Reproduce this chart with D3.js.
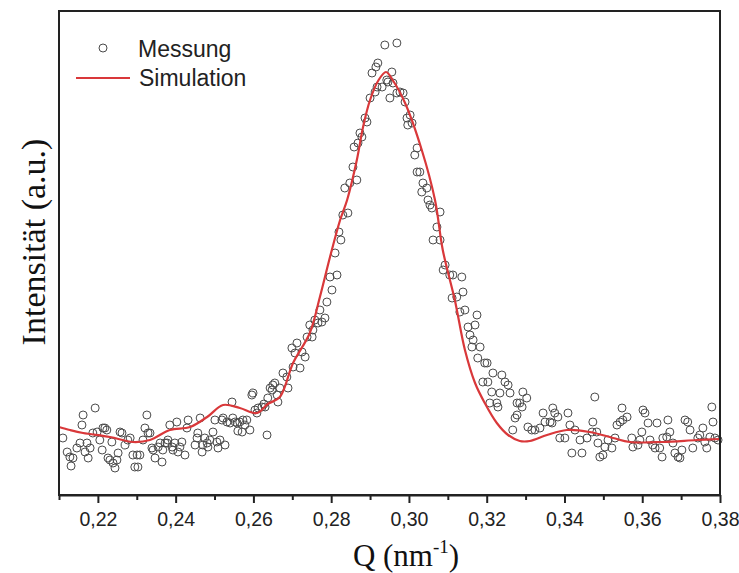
<!DOCTYPE html>
<html><head><meta charset="utf-8">
<script src="https://cdn.jsdelivr.net/npm/d3@7/dist/d3.min.js"></script>
<style>body{margin:0;background:#fff}svg{display:block}</style>
</head><body>
<script>
// Messung (measured) data: Q (nm^-1), intensity (a.u.)
const measQ = [0.2110,0.2121,0.2128,0.2131,0.2136,0.2146,0.2154,0.2159,0.2162,0.2167,0.2172,0.2175,0.2180,0.2187,0.2193,0.2198,0.2205,0.2211,0.2213,0.2218,0.2223,0.2226,0.2231,0.2236,0.2239,0.2244,0.2249,0.2252,0.2257,0.2262,0.2270,0.2277,0.2283,0.2290,0.2295,0.2301,0.2303,0.2308,0.2316,0.2321,0.2326,0.2329,0.2334,0.2339,0.2342,0.2347,0.2355,0.2360,0.2365,0.2367,0.2373,0.2378,0.2380,0.2385,0.2391,0.2393,0.2398,0.2403,0.2406,0.2411,0.2416,0.2424,0.2429,0.2432,0.2450,0.2455,0.2457,0.2463,0.2468,0.2470,0.2475,0.2481,0.2483,0.2488,0.2496,0.2501,0.2506,0.2509,0.2514,0.2519,0.2522,0.2527,0.2532,0.2540,0.2545,0.2547,0.2553,0.2558,0.2560,0.2565,0.2571,0.2573,0.2578,0.2583,0.2591,0.2596,0.2599,0.2604,0.2609,0.2612,0.2622,0.2627,0.2635,0.2643,0.2650,0.2661,0.2668,
0.2630,0.2637,0.2648,0.2655,0.2663,0.2676,0.2686,0.2689,0.2699,0.2702,0.2707,0.2712,0.2720,0.2725,0.2733,0.2738,0.2745,0.2751,0.2753,0.2758,0.2766,0.2771,0.2776,0.2784,0.2789,0.2797,0.2802,0.2810,0.2815,0.2820,0.2825,0.2830,0.2843,
0.2835,0.2848,0.2866,0.2856,0.2859,0.2869,0.2874,0.2879,0.2887,0.2892,0.2900,0.2905,0.2913,0.2918,0.2915,0.2920,0.2931,0.2938,0.2943,0.2946,0.2951,0.2956,0.2959,0.2969,0.2969,0.2977,0.2985,0.2990,0.2995,0.2997,0.3003,0.3008,0.3015,0.3021,0.3021,0.3028,0.3033,0.3036,0.3046,0.3049,0.3054,0.3059,0.3062,0.3072,0.3080,0.3080,0.3088,0.3093,0.3105,0.3111,0.3113,0.3123,0.3131,0.3136,0.3139,0.3144,0.3152,0.3157,0.3162,0.3165,0.3170,0.3175,0.3177,0.3183,0.3190,0.3195,0.3201,0.3203,0.3208,0.3213,0.3216,0.3226,0.3229,0.3234,0.3239,0.3247,0.3255,0.3260,0.3267,0.3273,0.3278,0.3278,0.3285,0.3291,0.3293,0.3303,0.3306,0.3316,0.3324,0.3337,0.3345,0.3350,0.3363,0.3368,0.3370,0.3375,0.3383,0.3388,0.3401,0.3409,0.3414,0.3419,0.3427,0.3440,0.3445,0.3458,0.3471,0.3473,0.3478,0.3483,0.3486,0.3491,0.3499,0.3504,0.3512,0.3522,0.3530,0.3535,0.3543,0.3548,0.3550,0.3561,0.3573,0.3576,0.3589,0.3594,0.3599,0.3602,0.3607,0.3615,0.3620,0.3627,0.3633,0.3638,0.3645,0.3651,0.3653,0.3663,0.3666,0.3671,0.3679,0.3684,0.3692,0.3697,0.3702,0.3710,0.3717,0.3723,0.3730,0.3743,0.3748,0.3756,0.3761,0.3766,0.3774,0.3779,0.3782,0.3787,0.3795];
const measI = [57,43,38,29,37,47,52,70,80,43,52,37,47,62,87,63,55,45,67,67,65,37,35,53,32,27,35,42,63,62,50,55,57,40,28,40,28,40,55,67,80,62,62,47,45,37,48,52,33,45,52,52,55,70,48,45,52,73,43,48,53,40,67,75,50,57,62,77,43,50,57,52,48,55,63,75,53,47,55,75,77,50,73,72,93,77,73,72,64,73,63,75,70,75,65,100,102,85,82,87,88,91,60,107,110,100,107,
88,97,105,112,93,122,118,107,147,128,142,152,127,143,138,158,170,158,165,175,172,185,173,177,193,218,205,242,220,263,255,280,282,
307,312,315,328,348,352,362,358,377,373,397,422,403,408,428,432,408,450,415,413,397,423,412,452,402,403,402,393,377,370,380,372,340,347,323,323,303,312,307,295,290,287,255,268,283,255,225,230,220,197,220,198,183,218,203,185,168,160,148,155,170,180,137,148,113,132,132,113,92,103,122,92,88,102,120,113,110,102,65,77,80,92,92,88,103,97,68,65,65,67,82,73,73,72,87,82,78,57,57,82,70,42,65,55,42,57,63,73,98,63,52,38,40,48,55,47,57,70,73,87,75,78,57,48,50,55,63,85,82,72,55,50,47,72,47,38,57,58,75,63,52,42,38,37,45,75,73,65,47,57,60,67,53,47,58,88,73,57,55];
// Simulation curve
const simQ = [0.2100,0.2128,0.2162,0.2231,0.2290,0.2334,0.2385,0.2437,0.2481,0.2522,0.2565,0.2609,0.2637,0.2668,0.2702,0.2745,0.2771,0.2797,0.2823,0.2841,0.2866,0.2882,0.2900,0.2922,0.2941,0.2958,0.2990,0.3033,0.3067,0.3087,0.3118,0.3144,0.3170,0.3195,0.3226,0.3255,0.3285,0.3311,0.3355,0.3406,0.3465,0.3525,0.3568,0.3653,0.3741,0.3800];
const simI = [68,65,62,58,53,55,65,68,78,90,87,82,91,98,132,162,198,238,275,295,335,368,395,415,423,415,392,345,295,245,195,145,112,92,72,60,54,54,60,65,63,57,53,53,55,56];
const majorTicks = [0.22,0.24,0.26,0.28,0.30,0.32,0.34,0.36,0.38];
const minorTicks = [0.21,0.23,0.25,0.27,0.29,0.31,0.33,0.35,0.37];
const legendLabels = ["Messung","Simulation"];

const W = 739, H = 573;
const m = {left:59, right:720, top:11, bottom:495};
const svg = d3.select("body").append("svg").attr("width",W).attr("height",H);
const x = d3.scaleLinear().domain([0.21,0.38]).range([m.left,m.right]);
const y = d3.scaleLinear().domain([0,484]).range([m.bottom,m.top]);

// measured points
svg.append("g").selectAll("circle").data(measQ.map((q,i)=>[q,measI[i]])).join("circle")
  .attr("cx",d=>x(d[0])).attr("cy",d=>y(d[1])).attr("r",4)
  .attr("fill","none").attr("stroke","#4a4a4a").attr("stroke-width",1);

// simulation line
const line = d3.line().x(d=>x(d[0])).y(d=>y(d[1])).curve(d3.curveCatmullRom.alpha(0.5));
svg.append("path").datum(simQ.map((q,i)=>[q,simI[i]]))
  .attr("d",line).attr("fill","none").attr("stroke","#d9383a").attr("stroke-width",2.2);

// frame
svg.append("rect").attr("x",m.left).attr("y",m.top).attr("width",m.right-m.left).attr("height",m.bottom-m.top)
  .attr("fill","none").attr("stroke","#222").attr("stroke-width",2);

// axes
const fmt = d => d3.format(".2f")(d).replace(".",",");
const gx = svg.append("g").attr("transform",`translate(0,${m.bottom})`)
  .call(d3.axisBottom(x).tickValues(majorTicks).tickSize(8).tickSizeOuter(0).tickFormat(fmt));
gx.select(".domain").attr("stroke","#222").attr("stroke-width",2);
gx.selectAll(".tick line").attr("stroke","#222").attr("stroke-width",2);
gx.selectAll(".tick text").attr("font-family","Liberation Sans, Arial, sans-serif").attr("font-size",19.5).attr("fill","#222").attr("dy","1.05em");
const gxm = svg.append("g").attr("transform",`translate(0,${m.bottom})`)
  .call(d3.axisBottom(x).tickValues(minorTicks).tickSize(5).tickSizeOuter(0).tickFormat(""));
gxm.select(".domain").remove();
gxm.selectAll(".tick line").attr("stroke","#222").attr("stroke-width",2);

// axis titles
const xt = svg.append("text").attr("x",406).attr("y",566).attr("text-anchor","middle")
  .attr("font-family","Liberation Serif, Times New Roman, serif").attr("font-size",31).attr("fill","#111");
xt.append("tspan").text("Q (nm");
xt.append("tspan").attr("font-size",19).attr("dy",-13).text("-1");
xt.append("tspan").attr("dy",13).text(")");
svg.append("text").attr("transform","translate(45,242) rotate(-90)").attr("text-anchor","middle")
  .attr("font-family","Liberation Serif, Times New Roman, serif").attr("font-size",34).attr("fill","#111")
  .text("Intensität (a.u.)");

// legend
const lg = svg.append("g").attr("font-family","Liberation Sans, Arial, sans-serif").attr("font-size",23).attr("fill","#222");
lg.append("circle").attr("cx",103).attr("cy",48).attr("r",4).attr("fill","none").attr("stroke","#4a4a4a");
lg.append("text").attr("x",138).attr("y",57).text(legendLabels[0]);
lg.append("line").attr("x1",76).attr("x2",130).attr("y1",78).attr("y2",78).attr("stroke","#d9383a").attr("stroke-width",2.2);
lg.append("text").attr("x",139).attr("y",86).text(legendLabels[1]);
</script>
</body></html>
